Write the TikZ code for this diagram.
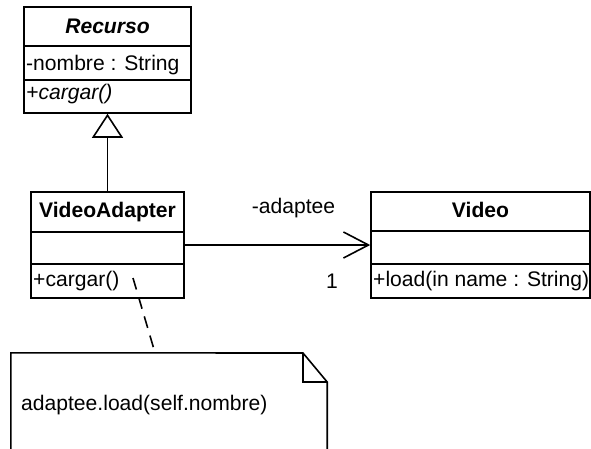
\documentclass[tikz,border=0pt]{standalone}
\usepackage{fontspec}
\setmainfont{Liberation Sans}
\usetikzlibrary{arrows.meta}

\newcommand\umlsize{\fontsize{21.1}{24}\selectfont}

\tikzset{
  umlbox/.style={draw, line width=1.6pt, rectangle, inner sep=0pt, minimum width=#1},
  txt/.style={inner sep=0pt, font=\umlsize},
  lefttxt/.style={txt, anchor=base west},
  midtxt/.style={txt, anchor=base},
  rule/.style={line width=1.6pt},
  generalization/.style={rule, -{Triangle[open, length=24pt, width=31pt, line width=1.6pt]}},
  navigable/.style={rule, -{Straight Barb[length=25pt, width=26pt, line width=1.6pt]}},
  anchorline/.style={rule, dash pattern=on 12pt off 8pt},
}

\begin{document}
\begin{tikzpicture}[x=1pt, y=-1pt]
  \clip (0,0) rectangle (591,448);
  \fill[white] (0,0) rectangle (591,448);

  % abstract class Recurso
  \node[umlbox=167pt, minimum height=106pt] (recurso) at (107.5,60) {};
  \draw[rule] (recurso.west |- 0,46) -- (recurso.east |- 0,46);
  \draw[rule] (recurso.west |- 0,80) -- (recurso.east |- 0,80);
  \node[midtxt, font=\umlsize\bfseries\itshape] (recursoname) at (107.5,33) {Recurso};
  \node[lefttxt] (recursoattr) at (26,70) {-nombre : String};
  \node[lefttxt, font=\umlsize\itshape] (recursoop) at (26,99) {+cargar()};

  % adapter class
  \node[umlbox=153pt, minimum height=106pt] (adapter) at (107.5,245) {};
  \draw[rule] (adapter.west |- 0,232) -- (adapter.east |- 0,232);
  \draw[rule] (adapter.west |- 0,264) -- (adapter.east |- 0,264);
  \node[midtxt, font=\umlsize\bfseries] (adaptername) at (107.5,217) {VideoAdapter};
  \node[lefttxt] (adapterop) at (33,286) {+cargar()};

  % adaptee class
  \node[umlbox=219pt, minimum height=106pt] (video) at (480.5,245) {};
  \draw[rule] (video.west |- 0,231) -- (video.east |- 0,231);
  \draw[rule] (video.west |- 0,264) -- (video.east |- 0,264);
  \node[midtxt, font=\umlsize\bfseries] (videoname) at (480.5,217) {Video};
  \node[lefttxt] (videoop) at (373,286) {+load(in name : String)};

  % relationships
  \draw[generalization] (adapter.north) -- (recurso.south);
  \draw[navigable] (adapter.east) -- (video.west);
  \node[midtxt] (rolename) at (293.5,213) {-adaptee};
  \node[midtxt] (multiplicity) at (332,288) {1};

  % note attached to the operation
  \node[rectangle, inner sep=0pt, minimum width=316pt, minimum height=107pt] (note) at (169,406.5) {};
  \draw[rule, line join=miter] (note.south west) -- (note.north west) -- (303,353) -- (note.east |- 0,382) -- (note.south east);
  \draw[rule] (303,353) -- (303,382) -- (note.east |- 0,382);
  \node[lefttxt] (notetext) at (21,410) {adaptee.load(self.nombre)};
  \coordinate (opref) at (133,278);
  \draw[anchorline] (opref) -- (note.north -| 155,0);
\end{tikzpicture}
\end{document}
